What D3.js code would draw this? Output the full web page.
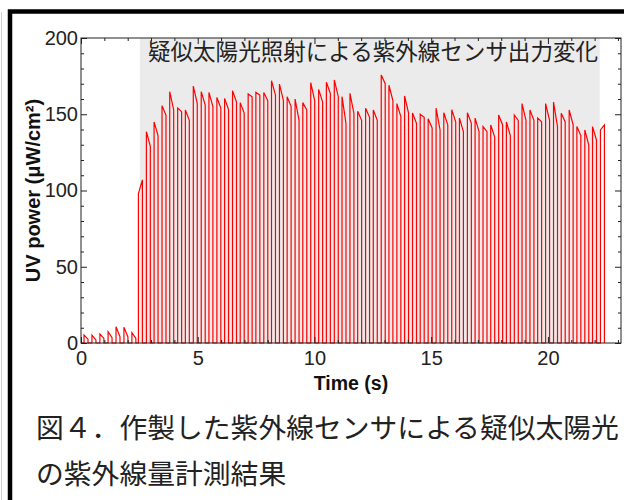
<!DOCTYPE html>
<html>
<head>
<meta charset="utf-8">
<script src="https://cdn.jsdelivr.net/npm/d3@7"></script>
<style>
body { margin: 0; background: #fff; }
svg { display: block; }
</style>
</head>
<body>
<script>
// pulse onsets (s)
const pulseStart = [
  0.13, 0.47, 0.81, 1.16, 1.50, 1.84, 2.18,
  2.46, 2.80, 3.13, 3.47, 3.80, 4.14, 4.47, 4.81, 5.15, 5.48,
  5.82, 6.15, 6.49, 6.82, 7.16, 7.49, 7.83, 8.16, 8.50, 8.83,
  9.17, 9.50, 9.84, 10.18, 10.51, 10.85, 11.18, 11.52, 11.85, 12.19,
  12.52, 12.86, 13.19, 13.53, 13.86, 14.20, 14.53, 14.87, 15.21, 15.54,
  15.88, 16.21, 16.55, 16.88, 17.22, 17.55, 17.89, 18.22, 18.56, 18.89,
  19.23, 19.56, 19.90, 20.24, 20.57, 20.91, 21.24, 21.58, 21.91, 22.25
];
// value right after the rise
const pulseOn = [
  5.2, 5.2, 5.9, 7.4, 10.7, 10.4, 6.8,
  98, 138.6, 145, 155.6, 164.8, 154, 152.8, 168.5, 164.8, 164.3,
  161, 160.4, 165.4, 157.6, 163.3, 164.3, 164.3, 172, 169.8, 161.5,
  160, 157.6, 170.7, 166.3, 171, 172.5, 161.5, 163.7, 152, 154,
  152.8, 175.7, 169, 157, 162, 150.8, 150, 147, 154, 151,
  153, 147.5, 151, 147.5, 141.9, 143, 149.5, 145, 149.5, 157,
  152.8, 147.5, 157, 158, 150.6, 152.8, 141.9, 139.7, 141.9, 139.7
];
// value just before the fall
const pulseOff = [
  2.5, 2.0, 3.0, 3.5, 4.0, 4.0, 3.0,
  107, 129, 136, 149.5, 152.8, 151.7, 146, 157, 156, 155,
  154, 153, 158, 150.8, 161.5, 162.6, 159, 162.6, 159, 155,
  146, 152.8, 159, 158, 163.7, 161.5, 144, 150.6, 146, 148,
  146, 170, 159, 148.4, 150.8, 144, 148, 141, 139.7, 143,
  145, 138.6, 144, 138.6, 138.6, 135, 143, 136, 146, 146,
  146, 145, 146, 141.9, 145, 143, 136, 129.8, 133, 143
];
const pulseWidth = 0.17;

const xMax = 23.13;
const xTicks = [0, 5, 10, 15, 20];
const yTicks = [0, 50, 100, 150, 200];
const shadeSpan = [2.52, 22.22];

const titleText = '疑似太陽光照射による紫外線センサ出力変化';
const xLabel = 'Time (s)';
const yLabel = 'UV power (μW/cm²)';
const captionLines = ['図４．作製した紫外線センサによる疑似太陽光', 'の紫外線量計測結果'];

const W = 624, H = 500;
const pLeft = 81, pRight = 621, pTop = 38, pBottom = 343;

const svg = d3.select('body').append('svg')
    .attr('width', W)
    .attr('height', H);

// outer page frame
svg.append('line').attr('x1', 1.5).attr('x2', 1.5).attr('y1', 12).attr('y2', H)
    .attr('stroke', '#d0d0d0').attr('stroke-width', 1);
svg.append('path').attr('d', `M10,${H} V11.5 H${W}`)
    .attr('fill', 'none').attr('stroke', '#000').attr('stroke-width', 4.5);

const x = d3.scaleLinear().domain([0, xMax]).range([pLeft, pRight]);
const y = d3.scaleLinear().domain([0, 200]).range([pBottom, pTop]);

// grey box behind title and trace
svg.append('rect')
    .attr('x', x(shadeSpan[0])).attr('y', pTop)
    .attr('width', x(shadeSpan[1]) - x(shadeSpan[0]))
    .attr('height', pBottom - pTop)
    .attr('fill', '#ebebeb');

svg.append('text')
    .attr('x', 148).attr('y', 60)
    .attr('font-family', '"Noto Sans CJK JP", sans-serif')
    .attr('font-size', 22.5)
    .attr('fill', '#222')
    .attr('textLength', 450)
    .attr('lengthAdjust', 'spacingAndGlyphs')
    .text(titleText);

// trace
const pts = [[0, 0]];
pulseStart.forEach((t, i) => {
    pts.push([t, 0], [t, pulseOn[i]], [t + pulseWidth, pulseOff[i]], [t + pulseWidth, 0]);
});
const line = d3.line().x(d => x(d[0])).y(d => y(d[1]));
svg.append('path')
    .attr('d', line(pts))
    .attr('fill', 'none')
    .attr('stroke', '#ff0000')
    .attr('stroke-width', 1.2);

// axes, ticks pointing inwards on all four sides
const font = '"Liberation Sans", Arial, sans-serif';
const minorX = d3.range(0, 24, 1).filter(v => v % 5 && v <= xMax);
const minorY = d3.range(0, 201, 10).filter(v => v % 50);

const styleAxis = g => {
    g.select('.domain').remove();
    g.selectAll('.tick line').attr('stroke', '#222');
    g.selectAll('.tick text').attr('font-family', font).attr('font-size', 20).attr('fill', '#222');
};

svg.append('g').attr('transform', `translate(0,${pBottom})`)
    .call(d3.axisBottom(x).tickValues(xTicks).tickSize(-6).tickPadding(8).tickFormat(d3.format('d')))
    .call(styleAxis);
svg.append('g').attr('transform', `translate(0,${pBottom})`)
    .call(d3.axisBottom(x).tickValues(minorX).tickSize(-3).tickFormat(''))
    .call(styleAxis);
svg.append('g').attr('transform', `translate(0,${pTop})`)
    .call(d3.axisTop(x).tickValues(xTicks).tickSize(-6).tickFormat(''))
    .call(styleAxis);
svg.append('g').attr('transform', `translate(0,${pTop})`)
    .call(d3.axisTop(x).tickValues(minorX).tickSize(-3).tickFormat(''))
    .call(styleAxis);

svg.append('g').attr('transform', `translate(${pLeft},0)`)
    .call(d3.axisLeft(y).tickValues(yTicks).tickSize(-6).tickPadding(3))
    .call(styleAxis);
svg.append('g').attr('transform', `translate(${pLeft},0)`)
    .call(d3.axisLeft(y).tickValues(minorY).tickSize(-3).tickFormat(''))
    .call(styleAxis);
svg.append('g').attr('transform', `translate(${pRight},0)`)
    .call(d3.axisRight(y).tickValues(yTicks).tickSize(-6).tickFormat(''))
    .call(styleAxis);
svg.append('g').attr('transform', `translate(${pRight},0)`)
    .call(d3.axisRight(y).tickValues(minorY).tickSize(-3).tickFormat(''))
    .call(styleAxis);

svg.append('rect')
    .attr('x', pLeft).attr('y', pTop)
    .attr('width', pRight - pLeft).attr('height', pBottom - pTop)
    .attr('fill', 'none').attr('stroke', '#222').attr('stroke-width', 1);

svg.append('text')
    .attr('x', (pLeft + pRight) / 2).attr('y', 390)
    .attr('text-anchor', 'middle')
    .attr('font-family', font).attr('font-weight', 'bold').attr('font-size', 19.5)
    .attr('fill', '#111')
    .text(xLabel);

svg.append('text')
    .attr('transform', `translate(40,${(pTop + pBottom) / 2}) rotate(-90)`)
    .attr('text-anchor', 'middle')
    .attr('font-family', font).attr('font-weight', 'bold').attr('font-size', 20)
    .attr('fill', '#111')
    .text(yLabel);

// figure caption
svg.append('g').selectAll('text')
    .data(captionLines)
    .join('text')
    .attr('x', 36)
    .attr('y', (d, i) => 438 + i * 46)
    .attr('font-family', '"Noto Sans CJK JP", sans-serif')
    .attr('font-size', 27.8)
    .attr('fill', '#222')
    .text(d => d);
</script>
</body>
</html>
